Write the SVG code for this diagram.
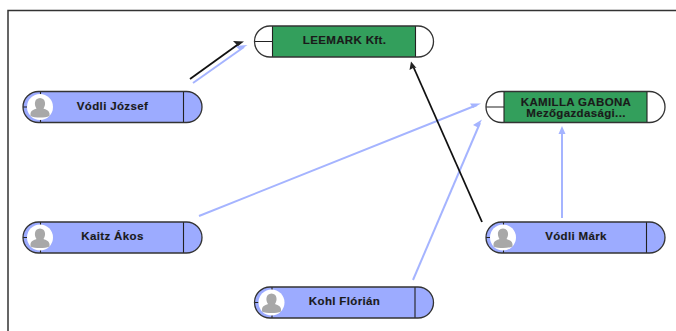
<svg xmlns="http://www.w3.org/2000/svg" width="676" height="331" viewBox="0 0 676 331">
<style>
text{font-family:"Liberation Sans",Arial,sans-serif;font-size:11.5px;letter-spacing:.35px;font-weight:bold;fill:#1a1a1a;text-anchor:middle;stroke:#1a1a1a;stroke-width:.15}
.o{fill:none;stroke:#333;stroke-width:1.3}
.d{fill:none;stroke:#222;stroke-width:1.1}
.p{fill:#9cabff}.g{fill:#339f5c}.w{fill:#fff}
.b{fill:none;stroke:#a5b4ff;stroke-width:2}
.k{fill:none;stroke:#111;stroke-width:1.8}
.hb{fill:#a5b4ff}.hk{fill:#222}
</style>
<defs>
<g id="av"><circle cx="0" cy="0" r="13" fill="#fff"/><path d="M-9.500 6.500C-9 3.500-6 2.500-3.500 1.500C-6-2-6-8.500 0-9C6-8.500 6-2 3.500 1.500C6 2.500 9 3.500 9.500 6.500L9.500 9C5 11-5 11-9.500 9Z" fill="#a8a8a8"/></g>
<path id="sh" d="M15.500 0H163.500A15.500 15.500 0 0 1 163.500 31H15.500A15.500 15.500 0 0 1 15.500 0Z"/>
<g id="person"><use href="#sh" class="p"/><path class="d" d="M17.500 0V31M160.500 0V31M0 15.500H4"/><use href="#av" x="17" y="15.500"/><use href="#sh" class="o"/></g>
<g id="org"><use href="#sh" class="w"/><rect x="18" y="0" width="143" height="31" class="g"/><path class="d" d="M18 0V31M161 0V31M0 15.500H18"/><use href="#sh" class="o"/></g>
</defs>
<path d="M8 331V10.500H676" fill="none" stroke="#333" stroke-width="1.500"/>
<g id="connectors">
<path class="b" d="M193 83L244 47"/><path class="hb" d="M247.500 45L235 46L240 50Z"/>
<path class="k" d="M190 79L240 43"/><path class="hk" d="M244 41.500L233 41L238 46Z"/>
<path class="b" d="M199 216L477 105"/><path class="hb" d="M481 103.500L470 103.500L473 108Z"/>
<path class="b" d="M413 280L480 123"/><path class="hb" d="M482 119.500L473 125L478 127.500Z"/>
<path class="b" d="M562 218V130"/><path class="hb" d="M562 126L558.500 134H565.500Z"/>
<path class="k" d="M482 222L413 66"/><path class="hk" d="M411 61.500L409.500 70L414 67.500L416.500 68Z"/>
</g>
<g id="n-vodli-jozsef"><use href="#person" x="23" y="91.500"/><text x="112.500" y="110">Vódli József</text></g>
<g id="n-leemark"><use href="#org" x="254.500" y="26"/><text x="344.500" y="44">LEEMARK Kft.</text></g>
<g id="n-kamilla"><use href="#org" x="486" y="91.500"/><text x="576" y="106">KAMILLA GABONA</text><text x="576" y="116.500">Mezőgazdasági...</text></g>
<g id="n-kaitz"><use href="#person" x="23" y="222"/><text x="112.500" y="240">Kaitz Ákos</text></g>
<g id="n-vodli-mark"><use href="#person" x="486" y="222"/><text x="576" y="240">Vódli Márk</text></g>
<g id="n-kohl"><use href="#person" x="254.500" y="287"/><text x="344.500" y="305">Kohl Flórián</text></g>
</svg>
